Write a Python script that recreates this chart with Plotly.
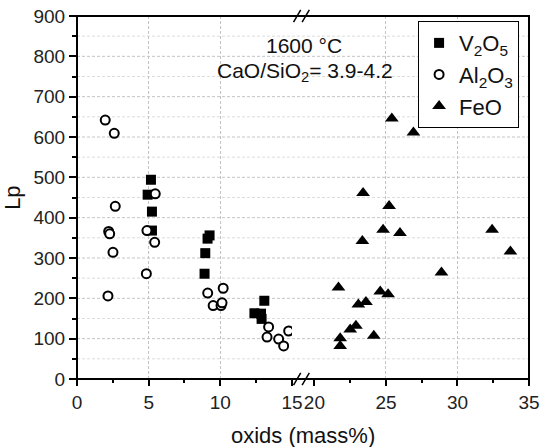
import plotly.graph_objects as go

# ---- data ----
v2o5_x = [5.16, 4.93, 5.23, 5.23, 9.25, 9.11, 8.95, 8.90, 13.07, 12.38, 12.84, 12.88]
v2o5_y = [494, 457, 415, 368, 356, 348, 312, 261, 194, 163, 162, 149]

al2o3_x = [1.97, 2.60, 2.67, 2.21, 2.28, 2.51, 2.16, 5.46, 4.88, 5.42, 4.84,
           9.12, 10.20, 9.50, 10.05, 10.12, 13.37, 13.26, 14.07, 14.42, 14.77]
al2o3_y = [642, 609, 428, 366, 360, 314, 206, 459, 368, 339, 261,
           213, 225, 182, 182, 189, 129, 104, 99, 82, 119]

feo_x = [25.41, 26.92, 23.40, 25.22, 24.80, 25.98, 23.35, 32.42, 33.70, 28.88,
         21.68, 24.60, 25.15, 23.07, 23.60, 22.50, 22.90, 24.15, 21.80, 21.80]
feo_y = [646, 611, 461, 429, 370, 362, 342, 370, 316, 264,
         227, 217, 210, 185, 191, 123, 132, 107, 101, 82]

x_left_ticks = [0, 5, 10, 15]
x_right_ticks = [20, 25, 30, 35]
y_major = [100, 200, 300, 400, 500, 600, 700, 800]
y_minor = [50, 150, 250, 350, 450, 550, 650, 750, 850]

FONT = "Liberation Sans, Arial, sans-serif"

fig = go.Figure()
fig.add_trace(go.Scatter(
    x=v2o5_x, y=v2o5_y, mode="markers", name="V<sub>2</sub>O<sub>5</sub>",
    marker=dict(symbol="square", size=10, color="black", line=dict(width=0)),
    xaxis="x", yaxis="y"))
fig.add_trace(go.Scatter(
    x=al2o3_x, y=al2o3_y, mode="markers", name="Al<sub>2</sub>O<sub>3</sub>",
    marker=dict(symbol="circle", size=9, color="white", line=dict(width=2, color="black")),
    xaxis="x", yaxis="y"))
fig.add_trace(go.Scatter(
    x=feo_x, y=feo_y, mode="markers", name="FeO",
    marker=dict(symbol="triangle-up", size=12, color="black", line=dict(width=0)),
    xaxis="x2", yaxis="y"))

shapes = []
for v in y_minor:
    shapes.append(dict(type="line", xref="paper", yref="y", x0=0, x1=1, y0=v, y1=v,
                       line=dict(color="#dcdcdc", width=1, dash="3px,2px"), layer="below"))
for v in y_major:
    shapes.append(dict(type="line", xref="paper", yref="y", x0=0, x1=1, y0=v, y1=v,
                       line=dict(color="#c4c4c4", width=1, dash="3px,2px"), layer="below"))
# frame
shapes.append(dict(type="rect", xref="paper", yref="paper", x0=0, x1=1, y0=0, y1=1,
                   line=dict(color="black", width=2), layer="above"))
# axis break marks
for yb in (0, 1):
    for xc in (0.487, 0.506):
        shapes.append(dict(type="line", xref="paper", yref="paper",
                           x0=xc - 0.008, x1=xc + 0.008, y0=yb - 0.017, y1=yb + 0.017,
                           line=dict(color="black", width=1.5), layer="above"))

axis_common = dict(
    ticks="outside", ticklen=6, tickwidth=1.5, tickcolor="black",
    showline=False, zeroline=False, automargin=False,
    showgrid=True, gridcolor="#c4c4c4", gridwidth=1, griddash="3px,2px",
    tickfont=dict(family=FONT, size=19, color="#222"),
    minor=dict(dtick=2.5, ticks="outside", ticklen=3, tickwidth=1.5, tickcolor="black", showgrid=False),
)

fig.update_layout(
    width=541, height=447,
    margin=dict(l=77, r=12, t=16, b=68, autoexpand=False),
    paper_bgcolor="white", plot_bgcolor="white",
    showlegend=True,
    xaxis=dict(domain=[0, 0.4756], range=[0, 15], tickvals=x_left_ticks, anchor="y", **axis_common),
    xaxis2=dict(domain=[0.5253, 1], range=[20, 35], tickvals=x_right_ticks, anchor="y", **axis_common),
    yaxis=dict(range=[0, 900], dtick=100, tick0=0, ticks="outside", ticklen=7, tickwidth=1.5,
               tickcolor="black", showline=False, zeroline=False, showgrid=False, automargin=False,
               tickfont=dict(family=FONT, size=19, color="#222"),
               minor=dict(dtick=50, ticks="outside", ticklen=4, tickwidth=1.5, tickcolor="black", showgrid=False)),
    legend=dict(x=0.7546, y=0.986, xanchor="left", yanchor="top",
                bordercolor="black", borderwidth=1, bgcolor="white",
                font=dict(family=FONT, size=22, color="#111"), tracegroupgap=0),
    shapes=shapes,
    annotations=[
        dict(text="1600 °C", xref="paper", yref="paper", x=0.5025, y=0.920,
             showarrow=False, xanchor="center", yanchor="middle",
             font=dict(family=FONT, size=21, color="#111")),
        dict(text="CaO/SiO<sub>2</sub>= 3.9-4.2", xref="paper", yref="paper", x=0.5035, y=0.846,
             showarrow=False, xanchor="center", yanchor="middle",
             font=dict(family=FONT, size=21, color="#111")),
        dict(text="oxids (mass%)", xref="paper", yref="paper", x=0.5, y=-0.156,
             showarrow=False, xanchor="center", yanchor="middle",
             font=dict(family=FONT, size=22, color="#111")),
        dict(text="Lp", xref="paper", yref="paper", x=-0.143, y=0.5, textangle=-90,
             showarrow=False, xanchor="center", yanchor="middle",
             font=dict(family=FONT, size=22, color="#111")),
    ],
)

fig.write_html("out.html", config={"displayModeBar": False},
               post_script="document.body.style.margin='0';document.body.style.overflow='hidden';")
